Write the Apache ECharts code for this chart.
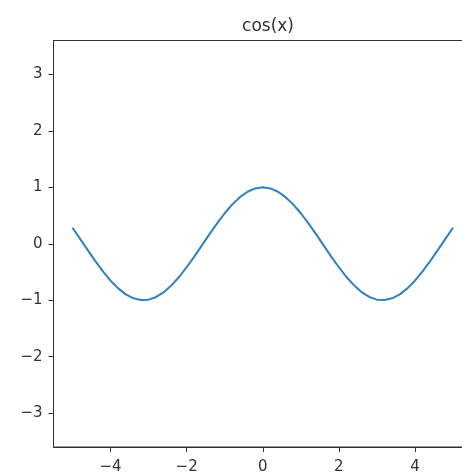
<!DOCTYPE html>
<html>
<head>
<meta charset="utf-8">
<script src="https://cdn.jsdelivr.net/npm/echarts@6/dist/echarts.min.js"></script>
<style>
  html, body { margin: 0; padding: 0; background: #fff; }
  #chart { width: 462px; height: 475px; }
</style>
</head>
<body>
<div id="chart"></div>
<script>
// Sample points of the curve
const xValues = [-5, -4.8, -4.6, -4.4, -4.2, -4, -3.8, -3.6, -3.4, -3.2, -3, -2.8, -2.6, -2.4, -2.2, -2, -1.8, -1.6, -1.4, -1.2, -1, -0.8, -0.6, -0.4, -0.2,
  0, 0.2, 0.4, 0.6, 0.8, 1, 1.2, 1.4, 1.6, 1.8, 2, 2.2, 2.4, 2.6, 2.8, 3, 3.2, 3.4, 3.6, 3.8, 4, 4.2, 4.4, 4.6, 4.8, 5];
const yValues = [0.284, 0.087, -0.112, -0.307, -0.490, -0.654, -0.791, -0.897, -0.967, -0.998, -0.990, -0.942, -0.857, -0.737, -0.589, -0.416, -0.227, -0.029, 0.170, 0.362, 0.540, 0.697, 0.825, 0.921, 0.980,
  1.000, 0.980, 0.921, 0.825, 0.697, 0.540, 0.362, 0.170, -0.029, -0.227, -0.416, -0.589, -0.737, -0.857, -0.942, -0.990, -0.998, -0.967, -0.897, -0.791, -0.654, -0.490, -0.307, -0.112, 0.087, 0.284];
const xTicks = [-4, -2, 0, 2, 4];
const yTicks = [-3, -2, -1, 0, 1, 2, 3];
const titleText = 'cos(x)';

const points = xValues.map((x, i) => [x, yValues[i]]);
const fmt = v => String(v).replace('-', '\u2212');
const axisColor = '#333';
const font = 'DejaVu Sans';

const chart = echarts.init(document.getElementById('chart'), null, { renderer: 'canvas' });
chart.setOption({
  animation: false,
  backgroundColor: '#fff',
  title: {
    text: titleText,
    left: 263, top: 13,
    textAlign: 'center',
    textStyle: { fontFamily: font, fontSize: 17, fontWeight: 'normal', color: '#333' }
  },
  grid: {
    left: 53.5, top: 40.5, width: 418.5, height: 406.5,
    outerBoundsMode: 'none',
    show: true, borderColor: axisColor, borderWidth: 1, containLabel: false
  },
  xAxis: {
    type: 'value', min: -5.5, max: 5.5,
    splitLine: { show: false },
    axisLine: { show: true, onZero: false, lineStyle: { color: axisColor, width: 1 } },
    axisTick: { show: true, length: 5, customValues: xTicks, lineStyle: { color: axisColor } },
    axisLabel: { customValues: xTicks, formatter: fmt, margin: 13, color: '#333', fontFamily: font, fontSize: 15 }
  },
  yAxis: {
    type: 'value', min: -3.6, max: 3.6,
    splitLine: { show: false },
    axisLine: { show: true, onZero: false, lineStyle: { color: axisColor, width: 1 } },
    axisTick: { show: true, length: 5, customValues: yTicks, lineStyle: { color: axisColor } },
    axisLabel: { customValues: yTicks, formatter: fmt, margin: 11, color: '#333', fontFamily: font, fontSize: 15 }
  },
  series: [{
    type: 'line',
    data: points,
    smooth: false,
    showSymbol: false,
    clip: false,
    lineStyle: { color: '#2f82bf', width: 2 }
  }]
});
</script>
</body>
</html>
